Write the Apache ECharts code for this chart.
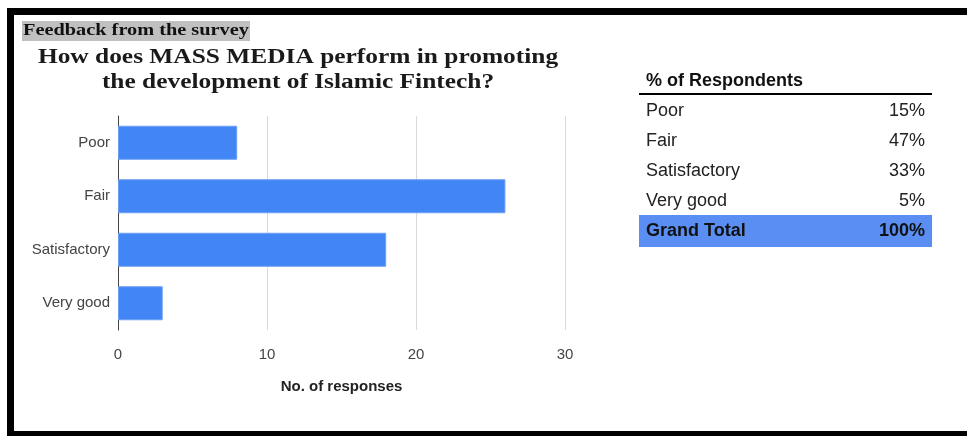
<!DOCTYPE html>
<html>
<head>
<meta charset="utf-8">
<script src="https://cdn.jsdelivr.net/npm/echarts@6/dist/echarts.min.js"></script>
<style>
  html, body { margin: 0; padding: 0; background: #fff; }
  #chart { width: 967px; height: 436px; }
</style>
</head>
<body>
<div id="chart"></div>
<script>
// Survey responses per rating
const categories = ['Poor', 'Fair', 'Satisfactory', 'Very good'];
const responses = [8, 26, 18, 3];
const xTicks = [0, 10, 20, 30];

// Summary table
const tableHeader = '% of Respondents';
const tableLabels = ['Poor', 'Fair', 'Satisfactory', 'Very good'];
const tablePercents = [15, 47, 33, 5];
const totalLabel = 'Grand Total';
const totalPercent = 100;

const sans = '"Liberation Sans", Arial, sans-serif';
const serif = '"Liberation Serif", "Times New Roman", serif';

const chart = echarts.init(document.getElementById('chart'));

// Table rows as graphic text
const tableGraphics = [];
const rowY = [111, 141, 171, 201];
tableLabels.forEach((lab, i) => {
  tableGraphics.push({
    type: 'text', x: 646, y: rowY[i],
    style: { text: lab, font: '18px ' + sans, fill: '#222', align: 'left', verticalAlign: 'middle' }
  });
  tableGraphics.push({
    type: 'text', x: 925, y: rowY[i],
    style: { text: tablePercents[i] + '%', font: '18px ' + sans, fill: '#222', align: 'right', verticalAlign: 'middle' }
  });
});

chart.setOption({
  animation: false,
  backgroundColor: '#fff',
  grid: { left: 118, right: 402, top: 116, height: 214 },
  xAxis: {
    type: 'value', min: 0, max: 30, interval: 10,
    axisLine: { show: false }, axisTick: { show: false },
    splitLine: { lineStyle: { color: '#d9d9d9', width: 1 } },
    axisLabel: {
      color: '#444', fontSize: 15, fontFamily: sans, margin: 17,
      formatter: v => xTicks.includes(v) ? String(v) : ''
    },
    name: 'No. of responses', nameLocation: 'middle', nameGap: 49,
    nameTextStyle: { color: '#222', fontSize: 15, fontWeight: 'bold', fontFamily: sans }
  },
  yAxis: {
    type: 'category', data: categories, inverse: true,
    axisLine: { show: true, lineStyle: { color: '#444', width: 1 } },
    axisTick: { show: false },
    axisLabel: { color: '#444', fontSize: 15, fontFamily: sans, margin: 8 }
  },
  series: [{
    type: 'bar', data: responses, barWidth: 34,
    itemStyle: { color: '#4285f4', borderColor: '#6b9ff6', borderWidth: 1 },
    silent: true
  }],
  graphic: [
    // frame
    { type: 'rect', shape: { x: 7, y: 8, width: 960, height: 7 }, style: { fill: '#000' } },
    { type: 'rect', shape: { x: 7, y: 8, width: 7, height: 428 }, style: { fill: '#000' } },
    { type: 'rect', shape: { x: 7, y: 431, width: 960, height: 5 }, style: { fill: '#000' } },
    // heading
    { type: 'rect', shape: { x: 22, y: 21, width: 228, height: 20 }, style: { fill: '#c0c0c0' } },
    { type: 'text', x: 23, y: 31, scaleX: 1.27,
      style: { text: 'Feedback from the survey', font: 'bold 16px ' + serif, fill: '#111', align: 'left', verticalAlign: 'middle' } },
    // title
    { type: 'text', x: 298, y: 58, scaleX: 1.27,
      style: { text: 'How does MASS MEDIA perform in promoting', font: 'bold 20px ' + serif, fill: '#1a1a1a', align: 'center', verticalAlign: 'middle' } },
    { type: 'text', x: 298, y: 83, scaleX: 1.27,
      style: { text: 'the development of Islamic Fintech?', font: 'bold 20px ' + serif, fill: '#1a1a1a', align: 'center', verticalAlign: 'middle' } },
    // table header
    { type: 'text', x: 646, y: 81,
      style: { text: tableHeader, font: 'bold 18px ' + sans, fill: '#111', align: 'left', verticalAlign: 'middle' } },
    { type: 'rect', shape: { x: 639, y: 93, width: 293, height: 2 }, style: { fill: '#000' } },
    ...tableGraphics,
    // total row
    { type: 'rect', shape: { x: 639, y: 215, width: 293, height: 32 }, style: { fill: '#5a8ef2' } },
    { type: 'text', x: 646, y: 231,
      style: { text: totalLabel, font: 'bold 18px ' + sans, fill: '#111', align: 'left', verticalAlign: 'middle' } },
    { type: 'text', x: 925, y: 231,
      style: { text: totalPercent + '%', font: 'bold 18px ' + sans, fill: '#111', align: 'right', verticalAlign: 'middle' } }
  ]
});
</script>
</body>
</html>
